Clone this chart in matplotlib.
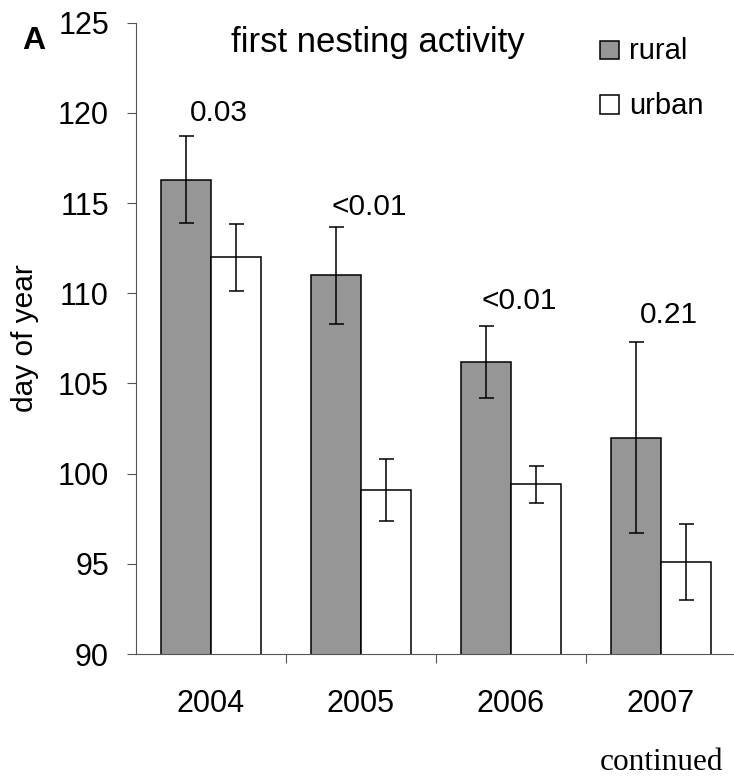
import matplotlib
matplotlib.use("Agg")
import matplotlib.pyplot as plt
from matplotlib.patches import Rectangle
import numpy as np

years = ["2004", "2005", "2006", "2007"]
rural = [116.3, 111.0, 106.2, 102.0]
rural_err = [2.4, 2.7, 2.0, 5.3]
urban = [112.0, 99.1, 99.4, 95.1]
urban_err = [1.85, 1.7, 1.05, 2.1]
p_labels = ["0.03", "<0.01", "<0.01", "0.21"]
p_y = [119.57, 114.34, 109.11, 108.34]

plt.rcParams['font.family'] = ['Liberation Sans', 'DejaVu Sans']

W, H = 734, 776
fig = plt.figure(figsize=(W / 100, H / 100), dpi=100)
ax = fig.add_axes([136 / W, 1 - 654 / H, 1 - 136 / W, (654 - 22.7) / H])

x = np.arange(len(years))
w = 1 / 3
ax.bar(x - w, rural, width=w, align='edge', bottom=0, color='#969696',
       edgecolor='black', linewidth=1.1, zorder=2)
ax.bar(x, urban, width=w, align='edge', color='white',
       edgecolor='black', linewidth=1.1, zorder=2)
ax.errorbar(x - w / 2, rural, yerr=rural_err, fmt='none', ecolor='black',
            elinewidth=1.1, capsize=5.4, capthick=1.1, zorder=3)
ax.errorbar(x + w / 2, urban, yerr=urban_err, fmt='none', ecolor='black',
            elinewidth=1.1, capsize=5.4, capthick=1.1, zorder=3)

for i, (lab, yy) in enumerate(zip(p_labels, p_y)):
    ax.text(i + 0.055, yy, lab, ha='center', va='baseline', fontsize=21.5)

ax.set_ylim(90, 125)
ax.set_xlim(-0.5, (W - 136) / 150 - 0.5)
ax.set_yticks(range(90, 126, 5))
ax.set_xticks(x)
ax.set_xticklabels(years)
ax.set_xticks(x[:-1] + 0.5, minor=True)
ax.tick_params(axis='x', which='major', length=0, pad=25, labelsize=22)
ax.tick_params(axis='x', which='minor', length=6.5, width=0.8, color='#555555')
ax.tick_params(axis='y', length=6.5, width=0.8, color='#555555', pad=13, labelsize=22)
for s in ['top', 'right']:
    ax.spines[s].set_visible(False)
for s in ['left', 'bottom']:
    ax.spines[s].set_color('#555555')
    ax.spines[s].set_linewidth(0.8)

fig.text(25 / W, 1 - 338 / H, "day of year", rotation=90, ha='center', va='center', fontsize=21.5)
fig.text(378 / W, 1 - 51.7 / H, "first nesting activity", ha='center', va='baseline', fontsize=25)
fig.text(22 / W, 1 - 49 / H, "A", ha='left', va='baseline', fontsize=23, fontweight='bold')

# legend
for (lab, top, col) in [("rural", 40.7, '#969696'), ("urban", 95, 'white')]:
    fig.patches.append(Rectangle((600 / W, 1 - (top + 18.5) / H), 19 / W, 18.5 / H,
                                 transform=fig.transFigure, facecolor=col,
                                 edgecolor='black', linewidth=1.1))
    fig.text(629 / W, 1 - (top + 18.5) / H, lab, ha='left', va='baseline', fontsize=21)

fig.text(600 / W, 1 - 770 / H, "continued", ha='left', va='baseline', fontsize=22.5,
         family=['Liberation Serif', 'DejaVu Serif'])

fig.savefig("out.png", dpi=100)
